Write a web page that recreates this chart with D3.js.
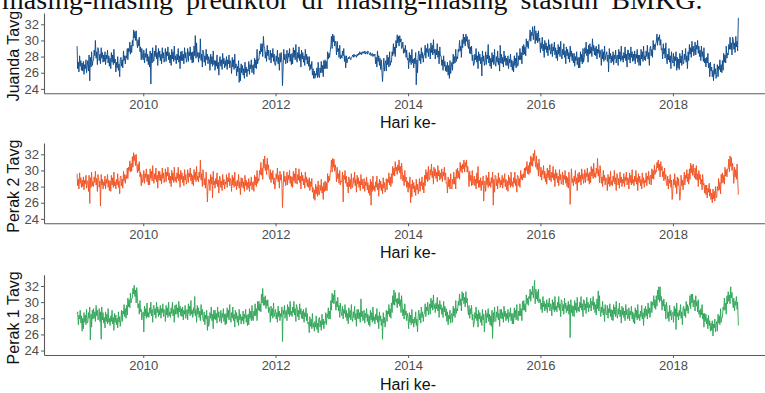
<!DOCTYPE html>
<html>
<head>
<meta charset="utf-8">
<script src="https://cdn.jsdelivr.net/npm/d3@7"></script>
<style>
  html, body { margin: 0; padding: 0; background: #fff; overflow: hidden; }
  svg { display: block; }
</style>
</head>
<body>
<svg id="chart" width="765" height="393"></svg>
<script>
// Average temperature (°C), two readings per week, one row per year 2009–2018
const years = [2009, 2010, 2011, 2012, 2013, 2014, 2015, 2016, 2017, 2018];

const juanda = [
  [29.3,26.5,27.3,26.1,28.1,26.8,27.5,26.3,27.2, 26.2,27.4,25.8,27.0,26.5,27.6,26.0,26.9, 27.5,26.2,28.2,25.0,27.9,26.7,28.6,26.9,27.4,
   27.6,28.8,28.1,30.0,27.8,28.6,27.0,29.1, 28.7,27.5,28.3,27.1,29.1,27.8,28.5,27.3,28.2, 27.4,28.6,27.0,28.2,27.7,28.8,27.2,28.1,26.8,
   27.8,26.5,28.5,27.3,28.2,27.0,28.9,27.2,27.7, 26.1,27.3,26.6,28.0,26.3,27.1,25.5,27.6, 27.9,26.8,27.6,26.6,28.7,27.5,28.1,27.1,28.1,
   27.8,29.0,27.6,29.0,28.6,29.8,28.3,29.4,28.5, 30.0,29.3,31.3,30.3,31.1,30.0,31.2,29.9, 29.1,30.1,29.3,30.4,28.6,29.2,27.6,29.0,27.9],
  [27.6,28.8,27.2,28.4,27.9,29.0,27.4,28.3,27.0, 28.0,26.7,28.7,24.6,28.4,27.2,29.1,27.4, 27.5,28.7,28.0,29.4,27.7,28.5,26.9,29.0,27.9,
   28.7,27.5,28.3,27.1,29.1,27.8,28.5,27.3, 27.8,29.0,27.4,28.6,28.1,29.2,27.6,28.5,27.2, 28.2,26.9,28.9,27.7,28.6,27.4,29.3,27.6,28.1,
   27.1,28.3,27.6,29.0,27.3,28.1,26.5,28.6,27.5, 28.7,27.5,28.3,27.1,29.1,27.8,28.5,27.3, 27.8,29.0,27.4,28.6,28.1,29.2,27.6,28.5,27.2,
   28.6,27.3,29.3,28.1,30.6,27.8,29.7,28.0,28.5, 27.3,28.5,27.8,30.2,27.5,28.3,26.7,28.8, 28.5,27.3,28.1,26.9,28.9,27.6,28.3,27.1,28.0],
  [27.6,26.3,28.3,27.1,28.0,26.8,28.7,27.0,27.5, 26.3,27.5,26.8,28.2,26.5,27.3,25.7,27.8, 28.0,26.8,27.6,26.4,28.4,27.1,27.8,26.6,27.5,
   26.8,28.0,26.4,27.6,27.1,28.2,26.6,27.5, 27.2,25.9,27.9,26.7,27.6,26.4,28.3,26.6,27.1, 25.6,26.8,26.1,27.5,24.8,26.6,25.0,27.1,26.0,
   26.9,25.7,26.5,25.3,27.3,26.0,26.7,25.5,26.4, 26.2,27.4,25.8,27.0,26.5,27.6,26.0,26.9, 27.0,25.8,27.8,26.6,27.6,26.5,28.9,27.1,27.7,
   27.6,28.7,28.3,29.6,28.6,29.6,28.0,30.5,29.3, 29.0,27.8,28.6,27.4,29.4,28.1,28.8,27.6, 27.6,28.8,27.2,28.4,27.9,29.0,27.4,28.3,27.0],
  [26.9,28.1,27.4,28.8,27.1,27.9,26.3,28.4,27.3, 28.5,27.3,24.4,26.9,28.9,27.6,28.3,27.1, 27.6,28.8,27.2,28.4,27.9,29.0,27.4,28.3,27.0,
   28.4,27.1,29.1,27.9,28.8,27.6,29.5,27.8, 27.3,28.5,27.8,29.2,27.5,28.3,26.7,28.8,27.7, 28.5,27.3,28.1,26.9,28.9,27.6,28.3,27.1,28.0,
   26.8,28.0,26.3,27.0,26.5,27.4,25.7,26.5,25.3, 26.2,25.3,25.9,25.7,26.6,25.4,27.3,25.6, 25.4,26.6,26.0,27.4,26.0,26.9,25.5,27.5,26.5,
   27.6,26.5,27.4,26.5,28.6,27.7,28.4,27.9,28.6, 29.3,30.5,29.0,30.8,29.8,30.6,29.3,29.9, 29.6,28.2,29.9,28.6,29.0,27.9,29.4,27.7,28.2],
  [27.8,28.7,28.1,29.0,27.4,28.1,26.6,28.1,27.2, 27.6,27.9,27.7,28.0,27.8,27.6,27.9,28.0, 28.2,27.9,28.3,28.0,28.2,28.1,27.9,28.3,28.1,
   28.4,28.2,28.6,28.3,28.5,28.2,28.6,28.4, 28.6,28.4,28.7,28.3,28.6,28.5,28.3,28.7,28.5, 28.4,28.2,28.5,28.1,28.3,28.4,28.0,28.3,28.1,
   28.3,27.1,27.9,26.7,28.7,27.4,28.1,26.9,27.8, 26.4,27.6,26.0,24.9,26.7,27.8,26.2,27.1, 27.5,26.2,28.2,27.0,27.9,26.7,28.6,26.9,27.4,
   27.3,28.6,28.1,29.6,28.3,29.2,28.0,30.0,29.1, 30.7,29.7,30.5,29.3,30.6,29.8,30.2,29.0, 29.2,29.8,28.4,29.0,28.5,29.4,27.9,28.8,27.6],
  [27.8,26.5,28.5,27.3,28.2,27.0,28.9,27.2,27.7, 26.6,27.8,27.1,28.5,24.5,27.6,26.0,28.1, 28.7,27.5,28.3,27.1,29.1,27.8,28.5,27.3,28.2,
   28.2,29.4,27.8,29.0,28.5,29.6,28.0,28.9, 29.0,27.7,29.7,28.5,29.4,28.2,30.1,28.4,28.9, 27.7,28.9,28.2,29.6,27.9,28.7,27.1,29.2,28.1,
   28.1,26.9,27.6,26.3,28.1,26.8,27.4,26.2,26.9, 26.1,27.3,25.7,26.9,25.3,27.5,25.9,26.8, 27.3,26.3,28.3,27.1,28.0,27.2,28.9,27.4,28.0,
   27.7,28.9,28.6,30.0,28.7,29.3,27.9,30.1,29.1, 30.8,29.6,30.4,29.3,30.8,29.9,30.5,29.4, 29.0,30.1,28.4,29.2,28.3,29.3,27.5,28.2,26.9],
  [27.1,28.3,27.6,29.0,27.3,28.1,26.5,28.6,27.5, 28.3,27.1,27.9,25.6,28.7,27.4,28.1,26.9, 27.4,28.6,27.0,28.2,27.7,29.5,27.2,28.1,26.8,
   27.8,26.5,28.5,27.3,28.2,27.0,28.9,27.2, 26.8,28.0,27.3,28.7,27.0,27.8,26.2,29.4,27.2, 28.3,27.1,27.9,26.7,28.7,27.4,28.1,26.9,27.8,
   26.9,28.1,26.5,27.7,27.2,28.3,26.7,27.6,26.3, 27.4,26.1,28.1,26.9,27.8,26.6,28.5,26.8, 26.9,28.1,27.6,29.0,27.6,28.5,27.1,29.3,28.2,
   29.5,28.3,29.2,28.1,30.2,29.2,29.9,29.0,29.9, 30.2,31.3,29.9,31.0,30.6,31.7,30.1,30.9, 31.8,29.6,31.2,30.0,30.9,29.7,31.2,29.9,30.3],
  [28.5,29.7,29.0,30.4,28.7,29.5,27.9,30.0,28.9, 29.7,28.5,29.3,28.1,30.1,28.8,29.5,28.3, 28.4,29.6,28.0,29.2,28.7,29.8,28.2,29.1,27.8,
   28.8,27.5,29.5,28.3,29.2,28.0,29.9,28.2, 27.7,28.9,28.2,29.6,27.9,28.7,27.1,29.2,28.1, 28.9,27.7,28.5,27.3,29.3,28.0,28.7,27.5,28.4,
   27.2,28.4,26.8,28.0,27.5,28.6,27.0,27.9,26.6, 27.9,26.6,28.6,27.4,28.3,27.1,29.0,27.3, 27.9,29.1,28.4,29.8,28.1,28.9,27.3,29.4,28.3,
   29.6,28.4,29.2,28.0,30.2,28.7,29.4,28.2,29.1, 28.1,29.3,27.7,28.9,28.4,29.5,27.9,28.8, 28.2,26.9,28.9,27.7,28.6,27.4,29.3,27.6,28.1],
  [28.6,27.4,28.2,26.1,29.0,27.7,28.4,27.2,28.1, 27.4,28.6,27.0,28.2,27.7,28.8,27.2,28.1, 28.2,26.9,28.9,27.7,28.6,27.4,29.3,27.6,28.1,
   27.3,28.5,27.8,29.2,27.5,28.3,26.7,28.8, 28.8,27.6,28.4,27.2,29.2,27.9,28.6,27.4,28.3, 27.5,28.7,27.1,28.3,27.8,28.9,27.3,28.2,26.9,
   28.2,26.9,28.9,27.7,28.6,27.4,29.3,27.6,28.1, 27.5,28.7,28.0,29.4,27.7,28.5,26.9,29.0, 29.3,28.1,28.9,27.9,30.0,28.9,29.5,28.8,29.6,
   29.8,30.8,29.4,30.4,30.0,30.7,29.4,30.1,28.8, 29.0,27.7,29.6,28.3,29.0,27.8,29.7,27.9, 27.1,28.3,27.6,29.0,27.3,28.1,26.5,28.6,27.5],
  [27.2,28.4,26.8,28.0,27.5,28.6,26.3,27.9,26.6, 27.7,26.4,28.4,27.2,28.1,26.9,28.8,27.1, 27.1,28.3,27.6,29.0,27.3,28.1,26.5,28.6,27.5,
   29.5,28.3,29.1,27.9,29.9,28.6,29.3,28.1, 28.6,29.8,28.2,29.4,28.9,30.0,28.4,29.3,28.0, 28.8,27.5,29.3,28.0,28.6,27.4,29.1,27.2,27.8,
   26.7,27.9,27.2,28.4,26.6,27.2,25.5,27.3,26.2, 26.7,25.5,26.3,25.0,27.1,25.8,26.5,25.3, 25.8,27.0,25.5,26.8,26.4,27.6,26.1,27.0,26.0,
   27.5,26.3,28.4,27.3,28.2,27.2,29.3,27.8,28.4, 28.2,29.5,28.9,30.4,28.9,29.7,28.2,30.4, 30.1,28.9,29.7,28.5,30.5,29.2,29.9,28.7,32.8]
];

const perak2 = [
  [29.6,28.1,28.9,27.7,29.7,28.4,29.1,27.9,28.8, 28.0,29.2,27.6,28.8,28.3,29.4,27.8,28.7, 28.7,27.4,29.4,25.9,29.1,27.9,29.8,28.1,28.6,
   28.0,29.2,28.5,29.9,28.2,29.0,27.4,29.5, 29.1,27.9,28.7,25.6,29.5,28.2,28.9,27.7,28.6, 28.1,29.3,27.7,28.9,28.4,29.5,27.9,28.8,27.5,
   28.7,27.4,29.4,28.2,29.1,27.9,29.8,28.1,28.6, 27.7,28.9,28.2,29.6,27.9,28.7,27.1,29.2, 29.3,28.1,28.9,27.8,29.9,28.7,29.5,28.4,29.4,
   29.0,30.3,29.0,30.4,30.0,31.2,29.8,30.9,29.9, 31.7,30.4,32.2,31.2,31.9,30.6,32.0,30.7, 29.7,30.8,29.9,31.1,29.2,29.8,28.1,29.5,28.5],
  [28.8,30.0,28.4,29.6,29.1,30.2,28.6,29.5,28.2, 29.5,28.2,30.2,29.0,29.9,28.7,30.6,28.9, 28.4,29.6,28.9,30.3,28.6,29.4,27.8,29.9,28.8,
   29.9,28.7,29.5,28.3,30.3,29.0,29.7,28.5, 29.0,30.2,28.6,29.8,29.3,30.4,28.8,29.7,28.4, 29.3,28.0,30.0,28.8,29.7,28.5,30.4,28.7,29.2,
   28.5,29.7,29.0,30.4,28.7,29.5,27.9,30.0,28.9, 29.7,28.5,29.3,28.1,30.1,28.8,29.5,28.3, 28.9,30.1,28.5,29.7,29.2,30.3,28.7,29.6,28.3,
   29.4,28.1,30.1,28.9,29.8,28.6,30.5,28.8,29.3, 28.6,29.8,29.1,31.3,28.8,29.6,28.0,30.1, 29.4,28.2,29.0,27.8,29.8,28.5,26.1,28.0,28.9],
  [28.8,27.5,29.5,28.3,29.2,26.6,29.9,28.2,28.7, 27.8,29.0,28.3,29.7,28.0,28.8,27.2,29.3, 29.1,27.9,28.7,27.5,29.5,28.2,28.9,27.7,28.6,
   28.3,29.5,27.9,29.1,28.6,29.7,28.1,29.0, 28.7,27.4,29.4,28.2,29.1,27.9,29.8,28.1,28.6, 27.6,28.8,28.1,29.5,27.8,28.6,27.0,29.1,28.0,
   29.0,27.8,28.6,27.4,29.4,28.1,28.8,27.6,28.5, 27.8,29.0,27.4,28.6,28.1,29.2,27.6,28.5, 28.6,27.4,29.4,28.2,29.2,28.0,30.0,28.4,29.0,
   28.7,30.0,29.5,31.0,29.4,30.3,28.9,31.4,30.3, 31.8,30.0,30.8,29.5,31.5,30.1,30.7,29.4, 28.9,30.1,28.5,29.7,28.9,30.0,28.3,29.1,27.7],
  [28.4,29.6,28.9,30.3,28.6,29.4,27.8,29.9,28.8, 29.5,28.3,25.4,27.9,29.9,28.6,29.3,28.1, 28.6,29.8,28.2,29.4,28.9,30.0,28.4,29.3,28.0,
   29.2,27.9,29.9,28.7,29.6,28.4,30.3,28.6, 28.3,29.5,28.8,30.2,28.5,29.3,27.7,29.8,28.7, 29.4,28.2,29.0,27.8,29.8,28.5,29.2,28.0,28.9,
   27.9,29.1,27.5,28.6,28.0,29.0,27.3,27.9,26.5, 27.6,26.3,28.3,27.1,28.0,26.8,28.7,27.0, 27.0,28.2,27.5,28.9,27.2,28.0,26.4,28.5,27.4,
   28.7,27.5,28.5,27.5,29.6,28.5,29.3,28.7,29.6, 30.1,31.3,29.8,31.5,30.4,31.4,29.9,30.7, 30.0,28.6,30.4,29.0,29.6,28.4,30.0,28.2,28.7],
  [28.6,29.8,26.1,29.4,28.9,30.0,28.4,29.3,28.0, 28.5,27.2,29.2,28.0,28.9,27.7,29.6,27.9, 27.9,29.1,28.4,29.8,28.1,28.9,27.3,29.4,28.3,
   29.1,27.9,28.7,27.5,29.5,28.2,28.9,27.7, 27.8,29.0,27.4,28.6,28.1,29.2,27.6,28.5,27.2, 28.2,26.9,28.9,25.7,28.6,27.4,29.3,27.6,28.1,
   27.4,28.6,27.9,29.3,27.6,28.4,26.8,28.9,27.8, 28.7,27.5,28.3,27.1,29.1,27.8,28.5,27.3, 27.8,29.0,27.6,28.9,28.5,29.7,28.2,29.2,28.0,
   29.6,28.4,30.5,29.4,30.3,29.3,31.1,29.9,30.4, 29.5,30.7,30.0,31.3,29.7,30.5,28.9,30.9, 29.9,28.7,29.4,28.1,30.0,28.6,29.2,27.9,28.7],
  [27.3,28.5,27.8,29.2,26.0,28.3,26.7,28.8,27.7, 28.5,27.3,28.1,26.9,28.9,27.6,28.3,27.1, 27.8,29.0,27.4,28.6,28.1,29.2,27.6,28.5,27.2,
   29.4,28.1,30.1,28.9,29.8,28.6,30.5,28.8, 28.9,30.1,29.4,30.8,29.1,29.9,28.3,30.4,29.3, 30.2,29.0,29.8,28.6,30.6,29.3,30.0,28.8,29.7,
   29.0,30.2,28.6,29.8,29.3,30.4,28.8,29.7,28.4, 28.5,27.2,29.2,28.0,28.9,27.7,29.6,27.9, 27.7,28.9,28.3,29.8,28.3,29.2,27.7,30.1,29.0,
   30.3,29.1,29.9,28.9,31.0,29.9,30.6,29.7,30.8, 30.2,31.3,29.8,31.0,30.4,31.3,29.8,30.5, 29.5,28.0,29.9,28.7,29.4,28.1,30.0,28.2,28.7],
  [29.3,28.1,28.9,27.7,29.7,28.4,30.5,27.9,28.8, 27.9,29.1,27.5,28.7,28.2,29.3,26.2,28.6, 28.7,27.4,29.4,28.2,29.1,27.9,29.8,28.1,28.6,
   27.9,29.1,28.4,29.8,25.7,28.9,27.3,29.4, 29.3,28.1,28.9,27.7,29.7,28.4,29.1,27.9,28.8, 28.2,29.4,27.8,29.0,28.5,29.6,28.0,28.9,27.6,
   28.7,27.4,29.4,28.2,29.1,27.9,29.8,28.1,28.6, 27.9,29.1,28.4,29.8,28.1,28.9,27.3,29.4, 29.3,28.1,29.0,27.9,30.0,28.9,29.5,28.8,29.6,
   29.1,30.3,29.1,30.4,30.0,31.1,29.6,30.6,29.5, 31.0,29.7,31.8,30.6,31.6,30.5,32.1,31.2, 32.5,31.1,30.4,31.8,30.1,30.9,29.3,31.4,30.3],
  [29.2,30.4,28.8,30.0,29.5,30.6,29.0,29.9,28.6, 29.6,28.3,30.3,29.1,30.0,28.8,30.7,29.0, 28.6,29.8,29.1,30.5,28.8,29.6,28.0,30.1,29.0,
   29.7,28.5,29.3,28.1,30.1,28.8,29.5,28.3, 28.6,29.8,28.2,29.4,28.9,30.0,28.4,29.3,28.0, 29.1,27.8,29.8,28.6,25.8,28.3,30.2,28.5,29.0,
   28.1,29.3,28.6,30.0,28.3,29.1,27.5,29.6,28.5, 29.8,28.6,29.4,28.2,30.2,28.9,29.6,28.4, 28.9,30.1,28.5,29.7,29.2,30.3,28.7,29.6,28.3,
   29.8,28.5,30.5,29.3,30.2,29.0,30.9,29.2,29.7, 29.1,30.3,29.6,31.5,29.3,30.1,28.5,30.6, 29.6,28.4,29.2,28.0,30.0,28.7,29.4,28.2,29.1],
  [28.8,27.5,29.5,28.3,29.2,28.0,29.9,28.2,28.7, 28.1,29.3,28.6,30.0,28.3,29.1,27.5,29.6, 29.4,28.2,29.0,27.8,29.8,28.5,29.2,28.0,28.9,
   28.4,29.6,28.0,29.2,28.7,29.8,28.2,29.1, 29.0,27.7,29.7,28.5,29.4,28.2,30.1,28.4,28.9, 28.1,29.3,28.6,30.0,28.3,29.1,27.5,29.6,28.5,
   29.3,28.1,28.9,27.7,29.7,28.4,29.1,27.9,28.8, 28.5,29.7,28.1,29.3,28.8,29.9,28.3,29.2, 29.4,28.2,30.2,29.0,30.0,28.9,30.7,29.5,30.0,
   29.8,31.0,30.3,31.3,30.0,30.8,29.2,31.1,30.0, 30.5,29.2,29.9,28.7,30.3,28.9,29.5,28.3, 28.1,29.3,27.7,28.9,28.4,29.5,27.9,28.8,26.4],
  [27.7,28.9,28.2,29.6,27.9,28.7,27.1,29.2,28.1, 29.0,27.8,26.3,27.4,29.4,28.1,28.8,27.6, 28.6,29.8,28.2,29.4,29.0,30.1,28.6,29.6,28.3,
   30.2,28.9,30.9,29.7,30.6,29.4,30.8,29.6, 29.1,30.3,28.9,30.6,28.8,29.6,28.0,30.0,28.9, 29.5,28.3,28.9,27.6,29.5,28.2,28.4,27.2,28.2,
   27.0,28.2,26.6,27.8,27.3,28.4,26.8,27.7,26.4, 27.2,26.0,27.7,26.5,27.4,26.2,28.0,26.6, 26.7,28.0,27.5,29.0,27.6,28.5,27.1,29.5,28.4,
   29.7,28.5,29.4,28.3,30.4,29.3,30.1,29.2,30.2, 30.2,31.4,29.8,31.8,30.5,31.6,30.0,30.9, 29.7,28.4,30.4,29.2,30.1,28.9,30.8,29.1,27.0]
];

const perak1 = [
  [28.6,28.8,27.2,28.4,27.9,29.0,27.4,28.3,26.4, 28.0,26.7,28.7,27.5,28.4,27.2,29.1,27.4, 27.5,28.7,28.0,29.4,25.3,28.5,26.9,29.0,27.9,
   29.2,28.0,28.8,27.6,29.6,28.3,29.0,27.8, 28.0,29.2,27.6,28.8,25.4,29.4,27.8,28.7,27.4, 28.1,26.8,28.8,27.6,28.5,27.3,29.2,27.5,28.0,
   27.1,28.3,27.6,29.0,27.3,28.1,26.5,28.6,27.5, 28.4,27.2,28.0,26.8,28.8,27.5,28.2,27.0, 27.8,29.0,27.6,28.9,28.5,29.7,28.2,29.2,28.0,
   29.6,28.4,30.5,29.4,30.3,29.3,31.1,29.9,30.4, 30.5,31.7,31.0,32.1,30.7,31.5,29.9,31.8, 30.5,29.3,29.8,28.5,30.2,28.8,29.1,27.8,28.6],
  [28.8,26.3,29.5,28.3,29.2,28.0,29.9,28.2,28.7, 28.1,29.3,28.6,30.0,28.3,29.1,27.5,29.6, 29.6,28.4,29.2,28.0,30.0,28.7,29.4,28.2,29.1,
   28.4,29.6,28.0,29.2,28.7,29.8,28.2,29.1, 28.9,27.6,29.6,28.4,29.3,28.1,30.0,28.3,28.8, 28.1,29.3,28.6,30.0,28.3,29.1,27.5,29.6,28.5,
   29.7,28.5,29.3,28.1,30.1,28.8,29.5,28.3,29.2, 28.2,29.4,27.8,29.0,28.5,29.6,28.0,28.9, 29.1,27.8,29.8,28.6,29.5,28.3,30.2,28.5,29.0,
   28.1,29.3,28.6,30.7,28.3,29.1,27.5,29.6,28.5, 29.3,28.1,28.9,27.7,29.7,28.4,29.1,27.9, 27.6,28.8,27.2,28.4,27.9,29.0,26.5,28.3,27.0],
  [27.5,28.7,28.0,29.4,27.7,28.5,26.7,29.0,27.9, 29.0,27.8,28.6,27.4,29.4,28.1,28.8,27.6, 27.8,29.0,27.4,28.6,28.1,29.2,27.6,28.5,27.2,
   28.6,27.3,29.3,28.1,29.0,27.8,29.7,28.0, 27.5,28.7,28.0,29.4,27.7,28.5,26.9,29.0,27.9, 28.7,27.5,28.3,27.1,29.1,27.8,28.5,27.3,28.2,
   27.7,28.9,27.3,28.5,28.0,29.1,27.5,28.4,27.1, 28.5,27.2,29.2,28.0,28.9,27.7,29.6,27.9, 27.7,28.9,28.3,29.8,28.3,29.2,27.7,30.1,29.0,
   30.1,28.9,29.8,28.8,31.0,29.9,31.7,29.6,30.6, 29.6,30.8,29.2,30.2,29.5,30.3,28.7,29.4, 28.8,27.5,29.5,28.3,29.2,28.0,29.9,28.2,28.7],
  [29.1,27.9,28.7,27.5,29.5,28.2,28.9,27.7,28.6, 28.2,29.4,25.1,29.0,28.5,29.6,28.0,28.9, 29.0,27.7,29.7,28.5,29.4,28.2,30.1,28.4,28.9,
   28.2,29.4,28.7,30.1,28.4,29.2,27.6,29.7, 29.4,28.2,29.0,27.8,29.8,28.5,29.2,28.0,28.9, 27.9,29.1,27.5,28.7,28.2,29.3,27.7,28.6,27.3,
   27.5,26.2,28.2,27.0,27.9,26.7,28.6,26.9,27.4, 26.4,27.6,26.9,28.3,26.6,27.4,26.2,27.9, 28.1,26.9,27.7,26.5,28.5,27.2,27.9,26.7,27.6,
   27.4,28.7,27.2,28.5,28.1,29.3,27.9,28.9,27.9, 30.2,29.0,31.1,29.9,30.9,29.8,31.5,30.1, 29.0,30.1,29.4,30.6,28.9,29.6,28.1,29.9,28.8],
  [28.3,29.5,27.9,29.1,28.6,29.7,28.1,29.0,27.7, 28.6,27.3,29.3,28.1,29.0,27.8,29.7,28.0, 27.6,28.8,28.1,29.5,27.8,28.6,27.0,29.1,28.0,
   29.1,27.9,28.7,27.5,30.4,28.2,28.9,27.7, 27.8,29.0,27.4,28.6,28.1,29.2,27.6,28.5,27.2, 28.3,27.0,29.0,27.8,28.7,27.5,29.4,27.7,28.2,
   27.3,28.5,27.8,29.2,27.5,28.3,26.7,28.8,27.7, 28.3,27.1,27.9,25.4,28.7,27.4,28.1,26.9, 27.8,29.0,27.6,28.9,28.5,29.7,28.2,29.2,28.0,
   29.9,28.7,30.8,29.7,31.5,29.6,31.2,30.0,30.4, 29.3,30.5,29.8,31.2,29.5,30.3,28.7,30.8, 29.5,28.3,29.1,27.9,29.8,28.4,28.9,27.7,28.6],
  [28.0,26.7,28.7,27.5,28.4,27.2,29.1,27.4,27.9, 26.9,28.1,27.4,28.8,27.1,27.9,26.3,28.4, 29.0,27.8,28.6,27.4,29.4,28.1,28.8,27.6,28.5,
   28.6,29.8,28.2,29.4,28.9,30.0,28.4,29.3, 29.8,28.5,30.5,29.3,30.2,29.0,30.9,29.2,29.7, 28.7,29.9,29.2,30.6,28.9,29.7,28.1,30.2,29.1,
   29.7,28.5,29.3,28.1,30.1,28.8,29.5,28.3,29.2, 27.6,28.8,27.2,28.4,27.9,29.0,27.4,28.3, 28.6,27.5,29.5,28.3,29.2,28.1,30.2,28.6,29.2,
   28.9,30.1,29.6,31.0,29.6,30.4,28.9,31.3,30.2, 31.1,29.8,30.6,29.4,31.3,29.9,30.5,29.2, 28.4,29.6,28.0,29.2,28.5,29.6,27.8,28.5,26.9],
  [27.5,28.7,28.0,29.4,27.7,28.5,26.9,29.0,27.9, 28.7,27.5,28.3,27.1,29.1,27.8,28.5,26.3, 27.8,29.0,27.4,28.6,28.1,29.2,27.6,28.5,27.2,
   28.3,27.0,29.0,25.5,28.7,27.5,29.4,27.7, 27.6,28.8,28.1,29.5,27.8,28.6,27.0,29.1,28.0, 29.1,27.9,28.7,27.5,29.5,28.2,28.9,27.7,28.6,
   27.9,29.1,27.5,28.7,28.2,29.3,27.7,28.6,27.3, 28.6,27.3,29.3,28.1,29.0,27.8,29.7,28.0, 27.7,28.9,28.3,29.8,28.3,29.2,27.7,30.1,29.0,
   30.2,29.0,29.8,28.8,30.9,29.8,30.5,29.6,30.7, 30.4,31.6,30.1,31.3,30.9,32.0,30.5,31.4, 32.7,29.8,31.6,30.4,31.3,30.1,31.6,29.9,30.4],
  [30.3,29.1,29.9,28.7,30.7,29.4,30.1,28.9,29.8, 29.1,30.3,28.7,29.9,29.4,30.5,28.9,29.8, 29.6,28.3,30.3,29.1,30.0,28.8,30.7,29.0,29.5,
   28.8,30.0,29.3,30.7,29.0,29.8,28.2,30.3, 30.1,28.9,29.7,28.5,30.5,29.2,29.9,28.7,29.6, 28.9,30.1,28.5,29.7,25.6,30.3,28.7,29.6,28.3,
   29.5,28.2,30.2,29.0,29.9,28.7,30.6,28.9,29.4, 28.8,30.0,29.3,30.7,29.0,29.8,28.2,30.3, 30.2,29.0,29.8,28.6,30.6,29.3,30.0,28.8,29.7,
   29.3,30.5,28.9,30.1,29.6,30.7,29.1,30.0,28.7, 29.7,28.4,30.4,29.2,31.4,28.9,30.8,29.1, 28.2,29.4,28.7,30.1,28.4,29.2,27.6,29.7,28.6],
  [28.4,29.6,28.0,29.2,28.7,29.8,28.2,29.1,27.8, 29.0,27.7,29.7,28.5,29.4,28.2,30.1,28.4, 28.0,29.2,28.5,29.9,28.2,29.0,27.4,29.5,28.4,
   29.3,28.1,28.9,27.7,29.7,28.4,29.1,27.9, 28.1,29.3,27.7,28.9,28.4,29.5,27.9,28.8,27.5, 28.6,27.3,29.3,28.1,29.0,27.8,29.7,28.0,28.5,
   27.7,28.9,28.2,29.6,27.9,28.7,27.1,29.2,28.1, 29.5,28.3,29.1,27.9,29.9,28.6,29.3,28.1, 28.9,30.1,28.7,30.0,29.6,30.8,29.3,30.3,29.1,
   30.8,29.5,31.5,30.3,31.9,30.0,31.9,30.2,30.7, 29.0,30.2,29.5,30.4,28.9,29.7,27.9,30.0, 29.2,28.0,28.8,27.6,29.6,28.3,29.0,27.8,28.7],
  [28.8,27.5,29.5,28.3,29.2,26.6,29.9,28.2,28.7, 27.8,29.0,28.3,29.7,28.0,28.8,27.2,29.3, 29.5,28.3,29.2,28.1,30.1,28.9,29.7,28.6,29.5,
   29.6,30.8,29.2,31.0,29.9,31.0,29.4,30.3, 30.2,28.9,30.8,29.5,30.1,28.8,30.3,28.5,29.0, 28.1,29.2,28.4,29.7,27.9,28.6,26.9,28.6,27.6,
   28.5,27.3,28.0,26.7,28.4,27.1,27.7,26.4,27.4, 26.5,27.7,25.8,27.3,26.8,27.9,26.3,27.2, 27.6,26.4,28.5,27.4,28.3,27.2,29.2,27.5,28.1,
   28.1,29.4,29.0,30.5,29.0,29.9,28.5,30.8,29.8, 31.3,30.1,30.9,29.8,31.9,30.5,31.2,30.0, 29.3,30.5,28.9,30.1,29.6,30.7,29.1,30.0,27.1]
];

const stations = ["Juanda Tavg", "Perak 2 Tavg", "Perak 1 Tavg"];
const seriesValues = [juanda, perak2, perak1];
const seriesColors = ["#0a4789", "#f04f1f", "#2ea456"];
const yTicks = [24, 26, 28, 30, 32];
const xTickYears = [2010, 2012, 2014, 2016, 2018];
const xTitle = "Hari ke-";
const captionText = "masing-masing prediktor di masing-masing stasiun BMKG.";

const svg = d3.select("#chart");

// Caption line from the surrounding document, clipped at the top edge
svg.append("text")
  .attr("x", 2).attr("y", 9)
  .attr("font-family", "'Liberation Serif', 'Times New Roman', serif")
  .attr("font-size", 28)
  .attr("word-spacing", 6)
  .attr("fill", "#111")
  .text(captionText);

// Flatten the yearly rows into dated points, spread evenly through each year
function toPoints(rows) {
  const pts = [];
  rows.forEach((row, r) => {
    const yr = years[r];
    const step = 365 / row.length;
    row.forEach((v, i) => {
      pts.push({ date: new Date(yr, 0, 1 + i * step), value: v });
    });
  });
  return pts;
}

const first = new Date(2009, 0, 1), last = new Date(2018, 11, 31);
const pad = (last - first) * 0.05;
const x = d3.scaleTime()
  .domain([new Date(+first - pad), new Date(+last + pad)])
  .range([44, 772]);

const panelTops = [13, 143, 274.7];
const panelH = 80.3;
const axisColor = "#5a5a5a";
const font = "'Liberation Sans', Arial, sans-serif";

panelTops.forEach((top, k) => {
  const bottom = top + panelH;
  const y = d3.scaleLinear().domain([23.45, 33.4]).range([bottom, top]);
  const g = svg.append("g");

  // series line
  const line = d3.line()
    .x(d => x(d.date))
    .y(d => y(d.value));
  g.append("path")
    .datum(toPoints(seriesValues[k]))
    .attr("d", line)
    .attr("fill", "none")
    .attr("stroke", seriesColors[k])
    .attr("stroke-width", 0.9)
    .attr("stroke-linejoin", "round");

  // y axis
  const yAxis = d3.axisLeft(y).tickValues(yTicks).tickSize(3).tickPadding(2).tickSizeOuter(0);
  const ya = g.append("g").attr("transform", "translate(44,0)").call(yAxis);
  ya.select(".domain").attr("stroke", axisColor).attr("stroke-width", 1.1);
  ya.selectAll(".tick line").attr("stroke", axisColor).attr("stroke-width", 1);
  ya.selectAll(".tick text")
    .attr("font-family", font).attr("font-size", 13).attr("fill", "#4d4d4d");

  // x axis
  const xAxis = d3.axisBottom(x)
    .tickValues(xTickYears.map(yr => new Date(yr, 0, 1)))
    .tickFormat(d3.timeFormat("%Y"))
    .tickSize(3).tickPadding(3).tickSizeOuter(0);
  const xa = g.append("g").attr("transform", `translate(0,${bottom})`).call(xAxis);
  xa.select(".domain").attr("stroke", axisColor).attr("stroke-width", 1.1);
  xa.selectAll(".tick line").attr("stroke", axisColor).attr("stroke-width", 1);
  xa.selectAll(".tick text")
    .attr("font-family", font).attr("font-size", 13).attr("fill", "#4d4d4d");

  // axis titles
  g.append("text")
    .attr("x", 408).attr("y", bottom + 35)
    .attr("text-anchor", "middle")
    .attr("font-family", font).attr("font-size", 16).attr("fill", "#111")
    .text(xTitle);
  g.append("text")
    .attr("transform", `translate(19,${top + panelH / 2 + 3}) rotate(-90)`)
    .attr("text-anchor", "middle")
    .attr("font-family", font).attr("font-size", 16).attr("fill", "#111")
    .text(stations[k]);
});
</script>
</body>
</html>
